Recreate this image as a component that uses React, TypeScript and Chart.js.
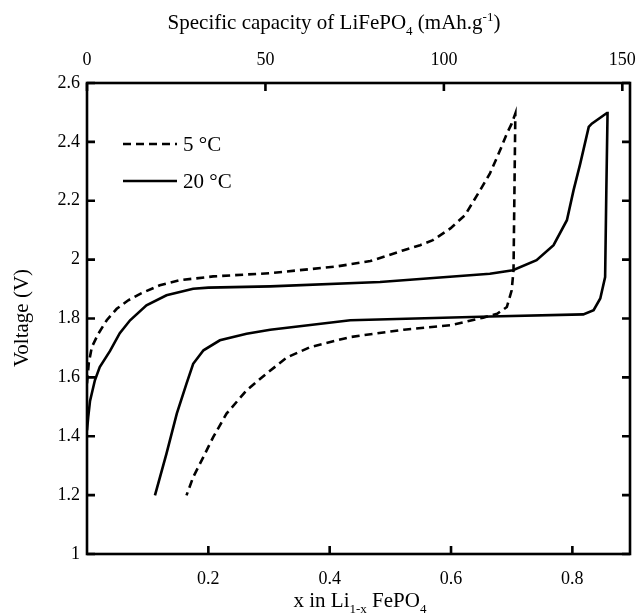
import { useEffect, useRef } from 'react';
import { Chart, registerables } from 'chart.js';

Chart.register(...registerables);

// ---- data ----
const label5 = '5 °C';
const label20 = '20 °C';

// 20 °C : charge (upper plateau) then discharge (lower plateau)
const x20 = [
  0.0, 0.002, 0.005, 0.013, 0.021, 0.038, 0.054, 0.071, 0.098, 0.131, 0.175, 0.2, 0.302, 0.483,
  0.664, 0.702, 0.741, 0.769, 0.791, 0.802, 0.813, 0.827, 0.832, 0.857, 0.858,
  0.856, 0.854, 0.846, 0.835, 0.818, 0.664, 0.434, 0.302, 0.263, 0.219, 0.192, 0.175, 0.164,
  0.148, 0.131, 0.112,
];
const v20 = [
  1.42, 1.465, 1.52, 1.59, 1.635, 1.69, 1.75, 1.794, 1.845, 1.879, 1.901, 1.905, 1.909, 1.924,
  1.952, 1.964, 1.998, 2.049, 2.134, 2.236, 2.326, 2.451, 2.462, 2.498, 2.498,
  2.236, 1.941, 1.868, 1.828, 1.814, 1.807, 1.794, 1.762, 1.748, 1.726, 1.692, 1.646, 1.579,
  1.477, 1.341, 1.199,
];

// 5 °C
const x5 = [
  0.0, 0.003, 0.008, 0.0186, 0.0325, 0.049, 0.068, 0.09, 0.12, 0.153, 0.208, 0.302, 0.412, 0.467,
  0.522, 0.549, 0.57, 0.599, 0.623, 0.648, 0.664, 0.681, 0.692, 0.7, 0.706,
  0.703, 0.7, 0.692, 0.676, 0.653, 0.599, 0.522, 0.434, 0.368, 0.329, 0.296, 0.263, 0.23, 0.208,
  0.189, 0.175, 0.164,
];
const v5 = [
  1.58, 1.65, 1.703, 1.748, 1.794, 1.833, 1.862, 1.886, 1.913, 1.93, 1.943, 1.954, 1.977, 1.995,
  2.032, 2.049, 2.066, 2.106, 2.151, 2.236, 2.292, 2.372, 2.428, 2.462, 2.496,
  1.964, 1.896, 1.839, 1.816, 1.803, 1.777, 1.762, 1.737, 1.703, 1.667, 1.613, 1.556, 1.477, 1.397,
  1.318, 1.261, 1.199,
];

const xTicks = [0.2, 0.4, 0.6, 0.8];
const yTicks = [1, 1.2, 1.4, 1.6, 1.8, 2, 2.2, 2.4, 2.6];
const capTicks = [0, 50, 100, 150];

const X_MIN = 0;
const X_MAX = 0.895;
const CAP_PER_X = 170; // mAh/g per unit x (theoretical capacity)
const Y_MIN = 1;
const Y_MAX = 2.6;

const FONT = '"Liberation Serif", "Times New Roman", serif';

type Seg = { t: string; k: 'n' | 'sub' | 'sup' };
const topTitle: Seg[] = [
  { t: 'Specific capacity of LiFePO', k: 'n' },
  { t: '4', k: 'sub' },
  { t: ' (mAh.g', k: 'n' },
  { t: '-1', k: 'sup' },
  { t: ')', k: 'n' },
];
const bottomTitle: Seg[] = [
  { t: 'x in Li', k: 'n' },
  { t: '1-x', k: 'sub' },
  { t: ' FePO', k: 'n' },
  { t: '4', k: 'sub' },
];
const yTitle = 'Voltage (V)';

function drawRich(ctx: CanvasRenderingContext2D, segs: Seg[], cx: number, baseY: number, size: number) {
  const small = Math.round(size * 0.6);
  let total = 0;
  for (const s of segs) {
    ctx.font = `${s.k === 'n' ? size : small}px ${FONT}`;
    total += ctx.measureText(s.t).width;
  }
  let x = cx - total / 2;
  ctx.textAlign = 'left';
  ctx.textBaseline = 'alphabetic';
  for (const s of segs) {
    ctx.font = `${s.k === 'n' ? size : small}px ${FONT}`;
    const dy = s.k === 'sub' ? size * 0.28 : s.k === 'sup' ? -size * 0.38 : 0;
    ctx.fillText(s.t, x, baseY + dy);
    x += ctx.measureText(s.t).width;
  }
}

const decorPlugin = {
  id: 'decor',
  afterDraw(chart: any) {
    const ctx: CanvasRenderingContext2D = chart.ctx;
    const ca = chart.chartArea;
    const sx = chart.scales.x;
    const sx2 = chart.scales.x2;
    const sy = chart.scales.y;
    ctx.save();
    ctx.strokeStyle = '#000';
    ctx.fillStyle = '#000';
    ctx.lineWidth = 2.6;
    ctx.strokeRect(ca.left, ca.top, ca.right - ca.left, ca.bottom - ca.top);
    const T = 8;
    ctx.beginPath();
    for (const v of yTicks) {
      const py = sy.getPixelForValue(v);
      ctx.moveTo(ca.left, py);
      ctx.lineTo(ca.left + T, py);
      ctx.moveTo(ca.right, py);
      ctx.lineTo(ca.right - T, py);
    }
    for (const v of xTicks) {
      const px = sx.getPixelForValue(v);
      ctx.moveTo(px, ca.bottom);
      ctx.lineTo(px, ca.bottom - T);
    }
    for (const v of capTicks) {
      const px = sx2.getPixelForValue(v);
      ctx.moveTo(px, ca.top);
      ctx.lineTo(px, ca.top + T);
    }
    ctx.stroke();

    // axis titles
    drawRich(ctx, topTitle, 334, 29, 21);
    drawRich(ctx, bottomTitle, 360, 607, 21);
    ctx.save();
    ctx.translate(22, 318);
    ctx.rotate(-Math.PI / 2);
    ctx.font = `21px ${FONT}`;
    ctx.textAlign = 'center';
    ctx.textBaseline = 'middle';
    ctx.fillText(yTitle, 0, 0);
    ctx.restore();

    // legend
    const items = chart.data.datasets;
    const rows = [144, 181];
    items.forEach((ds: any, i: number) => {
      const yy = rows[i];
      ctx.beginPath();
      ctx.lineWidth = 2.6;
      ctx.setLineDash(ds.borderDash || []);
      ctx.moveTo(123, yy);
      ctx.lineTo(177, yy);
      ctx.stroke();
      ctx.setLineDash([]);
      ctx.font = `21px ${FONT}`;
      ctx.textAlign = 'left';
      ctx.textBaseline = 'middle';
      ctx.fillText(ds.label, 183, yy + 1);
    });
    ctx.restore();
  },
};

export default function App() {
  const ref = useRef<HTMLCanvasElement | null>(null);
  useEffect(() => {
    if (!ref.current) return;
    const tickFont = { family: FONT, size: 18 };
    const chart = new Chart(ref.current, {
      type: 'scatter',
      data: {
        datasets: [
          {
            label: label5,
            data: x5.map((x, i) => ({ x, y: v5[i] })),
            showLine: true,
            borderColor: '#000',
            borderWidth: 2.6,
            borderDash: [8, 5],
            pointRadius: 0,
            tension: 0,
            xAxisID: 'x',
            yAxisID: 'y',
          },
          {
            label: label20,
            data: x20.map((x, i) => ({ x, y: v20[i] })),
            showLine: true,
            borderColor: '#000',
            borderWidth: 2.6,
            pointRadius: 0,
            tension: 0,
            xAxisID: 'x',
            yAxisID: 'y',
          },
        ],
      },
      options: {
        responsive: false,
        animation: false,
        layout: { padding: { left: 0, right: 9, top: 0, bottom: 0 } },
        plugins: { legend: { display: false }, tooltip: { enabled: false }, title: { display: false } },
        scales: {
          x: {
            type: 'linear',
            position: 'bottom',
            min: X_MIN,
            max: X_MAX,
            grid: { display: false, drawTicks: false },
            border: { display: false },
            afterBuildTicks: (s: any) => {
              s.ticks = xTicks.map((value) => ({ value }));
            },
            afterFit: (s: any) => {
              s.height = 61;
              s.paddingLeft = 0;
              s.paddingRight = 0;
            },
            ticks: {
              color: '#000',
              font: tickFont,
              padding: 14,
              maxRotation: 0,
              autoSkip: false,
              callback: (v: any) => String(Number(Number(v).toFixed(1))),
            },
          },
          x2: {
            type: 'linear',
            position: 'top',
            min: X_MIN * CAP_PER_X,
            max: X_MAX * CAP_PER_X,
            grid: { display: false, drawTicks: false },
            border: { display: false },
            afterBuildTicks: (s: any) => {
              s.ticks = capTicks.map((value) => ({ value }));
            },
            afterFit: (s: any) => {
              s.height = 83;
              s.paddingLeft = 0;
              s.paddingRight = 0;
            },
            ticks: {
              color: '#000',
              font: tickFont,
              padding: 12,
              maxRotation: 0,
              autoSkip: false,
              callback: (v: any) => String(v),
            },
          },
          y: {
            type: 'linear',
            position: 'left',
            min: Y_MIN,
            max: Y_MAX,
            grid: { display: false, drawTicks: false },
            border: { display: false },
            afterBuildTicks: (s: any) => {
              s.ticks = yTicks.map((value) => ({ value }));
            },
            afterFit: (s: any) => {
              s.width = 87;
              s.paddingTop = 0;
              s.paddingBottom = 0;
            },
            ticks: {
              color: '#000',
              font: tickFont,
              padding: 7,
              autoSkip: false,
              callback: (v: any) => String(Number(Number(v).toFixed(1))),
            },
          },
        },
      },
      plugins: [decorPlugin],
    } as any);
    return () => chart.destroy();
  }, []);
  return (
    <div style={{ position: 'fixed', left: 0, top: 0, width: 639, height: 615, background: '#fff' }}>
      <canvas ref={ref} width={639} height={615} style={{ width: 639, height: 615, display: 'block' }} />
    </div>
  );
}
